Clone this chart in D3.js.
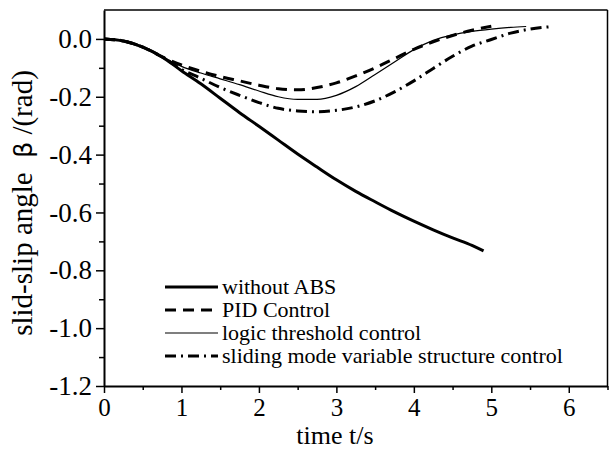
<!DOCTYPE html>
<html>
<head>
<meta charset="utf-8">
<script src="https://cdn.jsdelivr.net/npm/d3@7"></script>
<style>
  html, body { margin: 0; padding: 0; background: #fff; }
  svg { display: block; }
  svg text { font-family: "Liberation Serif", "Times New Roman", serif; fill: #000; }
</style>
</head>
<body>
<div id="chart"></div>
<script>
// Data (time in s, slip angle in rad)
const tCommon = [0, 0.25, 0.5, 0.75];
const bCommon = [0, -0.007, -0.028, -0.062];

const tNoAbs = [1.0, 1.25, 1.5, 1.75, 2.0, 2.25, 2.5, 2.75, 3.0, 3.25, 3.5, 3.75, 4.0, 4.25, 4.5, 4.75, 4.9];
const bNoAbs = [-0.11, -0.155, -0.205, -0.255, -0.302, -0.35, -0.398, -0.443, -0.487, -0.527, -0.563, -0.598, -0.630, -0.660, -0.688, -0.714, -0.733];

const tPid = [1.0, 1.25, 1.5, 1.75, 2.0, 2.25, 2.5, 2.75, 3.0, 3.25, 3.5, 3.75, 4.0, 4.25, 4.5, 4.75, 5.0];
const bPid = [-0.09, -0.112, -0.130, -0.145, -0.160, -0.172, -0.176, -0.168, -0.152, -0.128, -0.100, -0.068, -0.036, -0.010, 0.012, 0.030, 0.044];

const tLogic = [1.0, 1.25, 1.5, 1.75, 2.0, 2.25, 2.5, 2.75, 3.0, 3.25, 3.5, 3.75, 4.0, 4.25, 4.5, 4.75, 5.0, 5.25, 5.45];
const bLogic = [-0.095, -0.118, -0.138, -0.158, -0.180, -0.200, -0.209, -0.209, -0.195, -0.165, -0.123, -0.080, -0.037, -0.005, 0.014, 0.026, 0.034, 0.040, 0.043];

const tSmc = [1.0, 1.25, 1.5, 1.75, 2.0, 2.25, 2.5, 2.75, 3.0, 3.25, 3.5, 3.75, 4.0, 4.25, 4.5, 4.75, 5.0, 5.25, 5.5, 5.8];
const bSmc = [-0.105, -0.136, -0.168, -0.195, -0.220, -0.240, -0.249, -0.252, -0.247, -0.235, -0.214, -0.183, -0.145, -0.102, -0.060, -0.025, -0.002, 0.020, 0.034, 0.043];

const seriesNames = ['without ABS', 'PID Control', 'logic threshold control', 'sliding mode variable structure control'];
const xTicks = [0, 1, 2, 3, 4, 5, 6];
const yTicks = [0.0, -0.2, -0.4, -0.6, -0.8, -1.0, -1.2];

// Line styles per series
const styles = [
  { width: 3, dash: null },
  { width: 3, dash: '11,7' },
  { width: 1.2, dash: null },
  { width: 3, dash: '11,5,2,5' }
];

const W = 609, H = 451;
const margin = { top: 10, right: 1.5, bottom: 65, left: 104 };
const iw = W - margin.left - margin.right;
const ih = H - margin.top - margin.bottom;

const svg = d3.select('#chart').append('svg')
  .attr('width', W)
  .attr('height', H);

const g = svg.append('g').attr('transform', `translate(${margin.left},${margin.top})`);

const x = d3.scaleLinear().domain([0, 6.5]).range([0, iw]);
const y = d3.scaleLinear().domain([-1.2, 0.1]).range([ih, 0]);

// build the series from the arrays
function join(ts, bs) {
  return tCommon.map((t, i) => [t, bCommon[i]]).concat(ts.map((t, i) => [t, bs[i]]));
}
const series = [join(tNoAbs, bNoAbs), join(tPid, bPid), join(tLogic, bLogic), join(tSmc, bSmc)];

// frame (top and right)
g.append('line').attr('x1', 0).attr('x2', iw).attr('y1', 0).attr('y2', 0)
  .attr('stroke', '#000').attr('stroke-width', 1.5);
g.append('line').attr('x1', iw).attr('x2', iw).attr('y1', 0).attr('y2', ih)
  .attr('stroke', '#000').attr('stroke-width', 1.5);

// minor ticks
const xMinor = d3.range(0.5, 6.6, 1);
const yMinor = d3.range(-1.1, 0.05, 0.2);

const xAxis = g.append('g').attr('transform', `translate(0,${ih})`)
  .call(d3.axisBottom(x).tickValues(xTicks).tickFormat(d3.format('d')).tickSizeInner(7).tickSizeOuter(0));
g.append('g').attr('transform', `translate(0,${ih})`)
  .call(d3.axisBottom(x).tickValues(xMinor).tickFormat('').tickSizeInner(4).tickSizeOuter(0))
  .select('.domain').remove();

const yAxis = g.append('g')
  .call(d3.axisLeft(y).tickValues(yTicks).tickSizeInner(8).tickSizeOuter(0).tickPadding(4));
g.append('g')
  .call(d3.axisLeft(y).tickValues(yMinor).tickFormat('').tickSizeInner(5).tickSizeOuter(0))
  .select('.domain').remove();

g.selectAll('.domain').attr('stroke-width', 2);
g.selectAll('.tick line').attr('stroke-width', 1.5);
xAxis.selectAll('text')
  .attr('y', 30).attr('dy', null)
  .style('font-size', '25px');
yAxis.selectAll('text')
  .style('font-size', '27px')
  .text(d => d3.format('.1f')(d).replace('−', '-'));

// curves
const line = d3.line().x(d => x(d[0])).y(d => y(d[1])).curve(d3.curveMonotoneX);
series.forEach((s, i) => {
  g.append('path')
    .datum(s)
    .attr('d', line)
    .attr('fill', 'none')
    .attr('stroke', '#000')
    .attr('stroke-width', styles[i].width)
    .attr('stroke-dasharray', styles[i].dash);
});

// legend
const legend = svg.append('g').attr('transform', 'translate(165,287)');
seriesNames.forEach((name, i) => {
  const row = legend.append('g').attr('transform', `translate(0,${i * 23})`);
  row.append('line')
    .attr('x1', 0).attr('x2', 53).attr('y1', 0).attr('y2', 0)
    .attr('stroke', '#000')
    .attr('stroke-width', styles[i].width)
    .attr('stroke-dasharray', styles[i].dash);
  row.append('text')
    .attr('x', 57).attr('y', 0).attr('dy', '0.33em')
    .style('font-size', '22px')
    .text(name);
});

// axis titles
svg.append('text')
  .attr('x', 335).attr('y', 444)
  .attr('text-anchor', 'middle')
  .style('font-size', '26px')
  .text('time t/s');

const yt = svg.append('text')
  .attr('transform', 'translate(32,203) rotate(-90)')
  .attr('text-anchor', 'middle')
  .style('font-size', '29px');
yt.append('tspan').text('slid-slip angle\u00a0\u00a0');
yt.append('tspan').style('font-family', '"DejaVu Sans", sans-serif').style('font-size', '25px').text('β');
yt.append('tspan').text('\u00a0/(rad)');
</script>
</body>
</html>
